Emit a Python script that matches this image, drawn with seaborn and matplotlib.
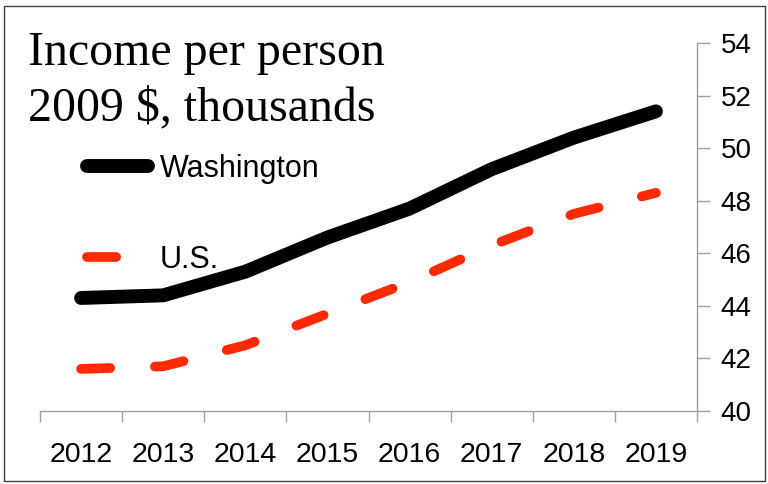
import matplotlib
matplotlib.use("Agg")
import matplotlib.pyplot as plt
from matplotlib.patches import Rectangle
import seaborn as sns
import pandas as pd

sns.set_theme(style="white")
plt.rcParams['font.family'] = ['Liberation Sans', 'DejaVu Sans']
plt.rcParams['text.color'] = 'black'
plt.rcParams['xtick.color'] = 'black'
plt.rcParams['ytick.color'] = 'black'

years = ['2012', '2013', '2014', '2015', '2016', '2017', '2018', '2019']
washington = [44.3, 44.4, 45.3, 46.6, 47.7, 49.2, 50.4, 51.4]
us = [41.6, 41.7, 42.5, 43.7, 44.9, 46.3, 47.5, 48.3]

df_wa = pd.DataFrame({'year': range(len(years)), 'value': washington})
df_us = pd.DataFrame({'year': range(len(years)), 'value': us})

fig = plt.figure(figsize=(7.68, 4.84), dpi=100)
ax = fig.add_axes([40 / 768, 1 - 411 / 484, 657 / 768, 368 / 484])

sns.lineplot(data=df_wa, x='year', y='value', ax=ax, color='black',
             linewidth=10, solid_capstyle='round', label='Washington')
sns.lineplot(data=df_us, x='year', y='value', ax=ax, color='#ff2a00',
             linewidth=7, linestyle=(0, (3, 4.6)), dash_capstyle='round', label='U.S.')

ax.set_xlim(-0.5, len(years) - 0.5)
ax.set_ylim(40, 54)
ax.set_xticks(range(len(years)))
ax.set_xticklabels(years, fontsize=20.5)
ax.set_xticks([i - 0.5 for i in range(len(years) + 1)], minor=True)
ax.tick_params(axis='x', which='major', length=0, pad=22, labelcolor='black')
ax.tick_params(axis='x', which='minor', length=8, width=1, color='#a0a0a0', bottom=True)
ax.yaxis.tick_right()
ax.set_yticks(range(40, 55, 2))
ax.tick_params(axis='y', labelsize=20, length=9, width=1, color='#a0a0a0', pad=8,
               right=True, labelcolor='black')
ax.set_xlabel('')
ax.set_ylabel('')
for side in ['left', 'top']:
    ax.spines[side].set_visible(False)
for side in ['right', 'bottom']:
    ax.spines[side].set_color('#a0a0a0')
    ax.spines[side].set_linewidth(1)

leg = ax.legend(loc='upper left', bbox_to_anchor=(87 / 768, 1 - 154 / 484),
                bbox_transform=fig.transFigure, frameon=False, fontsize=22,
                handlelength=2.0, handletextpad=0.39, labelspacing=2.0,
                borderpad=0, borderaxespad=0)
for t in leg.get_texts():
    t.set_color('black')

serif = ['Liberation Serif', 'DejaVu Serif']
fig.text(28 / 768, 1 - 65 / 484, 'Income per person', family=serif,
         fontsize=34.5, va='baseline', ha='left', color='black')
fig.text(28 / 768, 1 - 120 / 484, '2009 $, thousands', family=serif,
         fontsize=34.5, va='baseline', ha='left', color='black')

fig.patches.append(Rectangle((4 / 768, 3 / 484), 761 / 768, 475 / 484,
                             transform=fig.transFigure, fill=False,
                             edgecolor='#404040', linewidth=1))

fig.savefig('out.png', dpi=100)
